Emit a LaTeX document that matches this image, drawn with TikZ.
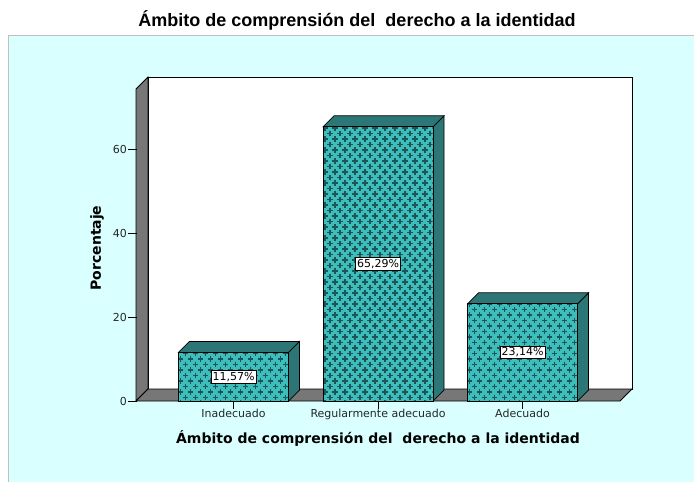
\documentclass[tikz,border=0pt]{standalone}
\usepackage{fontspec}
\setmainfont{Liberation Sans}
\newfontfamily\djv{DejaVu Sans}
\begin{document}
\begin{tikzpicture}[x=1pt,y=-1pt,
  panelbg/.style={fill=panelc,draw=panelborder,line width=1pt},
  wallstyle/.style={fill=wallgray,draw=black,line width=0.9pt},
  backwall/.style={fill=white,draw=black,line width=0.9pt},
  frontface/.style={fill=barlight,draw=black,line width=0.7pt},
  darkface/.style={fill=bardark,draw=black,line width=0.7pt},
  crossmark/.style={draw=crossc,line width=1.9pt},
  ticklab/.style={font=\djv\fontsize{11}{12}\selectfont,text=black!85},
  catlab/.style={font=\djv\fontsize{11}{12}\selectfont,text=black!85},
  vallab/.style={font=\djv\fontsize{11}{12}\selectfont,fill=white,draw=black,line width=0.6pt,inner sep=1.6pt},
  axtitle/.style={font=\djv\bfseries\fontsize{14}{16}\selectfont},
  maintitle/.style={font=\bfseries\fontsize{18}{20}\selectfont},
  tickline/.style={draw=black,line width=0.8pt}]
\definecolor{panelc}{HTML}{D9FFFF}
\definecolor{panelborder}{HTML}{C0C0C0}
\definecolor{wallgray}{HTML}{777777}
\definecolor{barlight}{HTML}{3EBDBD}
\definecolor{bardark}{HTML}{2C7775}
\definecolor{crossc}{HTML}{1D5456}
\useasboundingbox (0,0) rectangle (694,482);
\fill[white] (0,0) rectangle (694,482);
% panel
\path[panelbg] (8,35) -- (700,35) -- (700,490) -- (8,490) -- cycle;
\node[maintitle] (title) at (357,20) {Ámbito de comprensión del\ \ derecho a la identidad};
% walls
\path[backwall] (148,77) rectangle (632,389);
\path[wallstyle] (136,89) -- (148,77) -- (148,389) -- (136,401) -- cycle;
\path[wallstyle] (136,401) -- (148,389) -- (632,389) -- (620,401) -- cycle;
% y ticks
\foreach \v in {0,20,40,60}{
  \coordinate (t\v) at (137,{401-4.2*\v});
  \coordinate (tl\v) at (128,{401-4.2*\v});
  \draw[tickline] (t\v) -- (tl\v);
  \node[ticklab,anchor=east,inner sep=1pt] (yl\v) at (tl\v) {\v};
}
% bars
\foreach \n/\xa/\val/\lab in {1/178.5/11.57/{11,57\%},2/323/65.29/{65,29\%},3/467.5/23.14/{23,14\%}}{
  \pgfmathsetmacro{\xb}{\xa+110}
  \pgfmathsetmacro{\yt}{401-4.2*\val}
  \path[darkface] (\xb,\yt) -- (\xb+11,\yt-11) -- (\xb+11,390) -- (\xb,401) -- cycle;
  \path[darkface] (\xa,\yt) -- (\xa+11,\yt-11) -- (\xb+11,\yt-11) -- (\xb,\yt) -- cycle;
  \path[frontface] (\xa,\yt) rectangle (\xb,401);
  \begin{scope}
    \clip (\xa+0.5,\yt+0.5) rectangle (\xb-0.5,400.5);
    \foreach \r in {0,...,52}{
      \pgfmathsetmacro{\yy}{403-5.5*\r}
      \pgfmathsetmacro{\off}{mod(\r,2)*5}
      \foreach \c in {0,...,11}{
        \pgfmathsetmacro{\xx}{\xa+2+\off+10*\c}
        \draw[crossmark] (\xx-2.7,\yy) -- (\xx+2.7,\yy) (\xx,\yy-2.7) -- (\xx,\yy+2.7);
      }
    }
  \end{scope}
  \path[draw=black,line width=0.7pt] (\xa,\yt) rectangle (\xb,401);
  \node[vallab] (v\n) at ({\xa+55},{(\yt+401)/2}) {\lab};
}
% category ticks and labels
\foreach \n/\cx/\lab in {1/233.5/Inadecuado,2/378/Regularmente adecuado,3/522.5/Adecuado}{
  \coordinate (c\n) at (\cx,401);
  \coordinate (cb\n) at (\cx,409);
  \draw[tickline] (c\n) -- (cb\n);
  \node[catlab,anchor=north,inner sep=1pt] (cl\n) at (\cx,408) {\lab};
}
\node[axtitle] (xt) at (378,438) {Ámbito de comprensión del\ \ derecho a la identidad};
\node[axtitle,rotate=90] (yt) at (97,248) {Porcentaje};
\end{tikzpicture}
\end{document}
